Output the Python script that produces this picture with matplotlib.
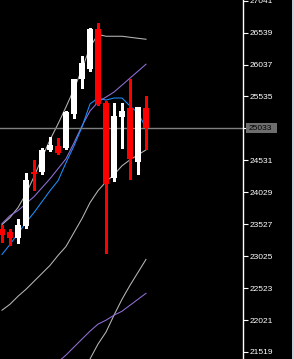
import numpy as np
import matplotlib
matplotlib.use("Agg")
import matplotlib.pyplot as plt
import matplotlib.transforms as mtransforms
from matplotlib.patches import Rectangle

# daily candles (oldest -> newest)
opens  = [23444, 23397, 23318, 23506, 24352, 24352, 24696, 24759, 24728, 25260,
          25808, 25965, 26591, 25432, 24258, 25213, 25354, 24508, 25354]
highs  = [23522, 23459, 23616, 24336, 24540, 24728, 24900, 24884, 25307, 25808,
          26168, 26607, 26685, 25464, 25432, 25432, 25808, 25370, 25542]
lows   = [23240, 23193, 23224, 23475, 24070, 24320, 24681, 24634, 24712, 25197,
          25667, 25933, 25401, 23068, 24211, 24728, 24242, 24320, 24712]
closes = [23365, 23318, 23522, 24227, 24320, 24696, 24775, 24649, 25291, 25808,
          26059, 26591, 25417, 24164, 25229, 25307, 24555, 25370, 25033]

# indicator lines, one value per candle (nan = not drawn / off chart)
band_upper = [23522, 23631, 23788, 24007, 24273, 24571, 24853, 25103, 25370, 25652,
              25965, 26309, 26513, 26482, 26482, 26482, 26466, 26450, 26435]
band_lower = [22175, 22269, 22394, 22504, 22629, 22754, 22880, 23036, 23177, 23397,
              23616, 23866, 24054, 24195, 24305, 24446, 24540, 24618, 24696]
ma_fast = [23052, 23209, 23381, 23553, 23710, 23882, 24054, 24211, 24493, 24759,
           25056, 25417, 25511, 25479, 25511, 25511, 25385, 25276, 25041]
ma_slow = [23537, 23663, 23741, 23851, 23960, 24101, 24242, 24399, 24555, 24806,
           25072, 25307, 25448, 25526, 25605, 25714, 25824, 25933, 26043]
low_gray = [np.nan] * 9 + [20891, 21157, 21408, 21643, 21831, 22097, 22347, 22567,
                           22770, 22974]
low_purple = [np.nan] * 7 + [21361, 21470, 21596, 21721, 21846, 21956, 22018, 22097,
                             22159, 22253, 22347, 22441]

price_ticks = [21519, 22021, 22523, 23025, 23527, 24029, 24531, 25033, 25535,
               26037, 26539, 27041]

W, H = 294, 359
fig = plt.figure(figsize=(W / 100, H / 100), dpi=100, facecolor="black")
ax = fig.add_axes([0, 0, 243 / W, 1])
ax.set_facecolor("black")

x = np.arange(len(closes))
lw = 0.75

# indicator lines
ax.plot(x, band_upper, color="#b8b8b8", lw=lw)
ax.plot(x, band_lower, color="#b8b8b8", lw=lw)
ax.plot(x, low_gray, color="#b8b8b8", lw=lw)
ax.plot(x, low_purple, color="#9370db", lw=lw)
ax.plot(x, ma_slow, color="#9370db", lw=lw)
ax.plot(x, ma_fast, color="#1e90ff", lw=lw)

# candles
for i in range(len(closes)):
    up = closes[i] >= opens[i]
    c = "white" if up else "#ff0000"
    ax.vlines(i, lows[i], highs[i], color=c, lw=1.0, antialiased=False, zorder=3)
    bot = min(opens[i], closes[i])
    ax.bar(i, max(abs(closes[i] - opens[i]), 15), bottom=bot, width=0.68,
           color=c, lw=0, antialiased=False, zorder=4)

# last price line
last = closes[-1]
ax.axhline(last, color="#808080", lw=1.0, zorder=2)

ax.set_xlim(-0.25, 30.125)
ax.set_ylim(21408, 27052)

for s in ["top", "bottom", "left"]:
    ax.spines[s].set_visible(False)
ax.spines["right"].set_color("white")
ax.spines["right"].set_linewidth(1.0)
ax.set_xticks([])
ax.yaxis.tick_right()
ax.set_yticks(price_ticks)
ax.set_yticklabels([str(t) for t in price_ticks])
ax.tick_params(axis="y", colors="white", length=3.6, width=0.8, pad=0.8,
               labelsize=6, labelcolor="white")
for t in ax.get_yticklabels():
    t.set_family("Liberation Sans")

# price label box
px_per_data = H / (27052 - 21408)
trans = mtransforms.blended_transform_factory(fig.transFigure, ax.transData)
box_h = 10 / px_per_data
fig.patches.append(Rectangle((246 / W, last - box_h / 2), 31 / W, box_h,
                             transform=trans, facecolor="#6e6e6e",
                             edgecolor="none", zorder=5))
fig.text(248.5 / W, last, str(last), transform=trans, color="black",
         fontsize=6, family="Liberation Sans", va="center", ha="left", zorder=6)

# window border on the right
fig.patches.append(Rectangle((292 / W, 0), 2 / W, 1, transform=fig.transFigure,
                             facecolor="#c8d0da", edgecolor="none"))

fig.savefig("out.png", dpi=100, facecolor="black")
